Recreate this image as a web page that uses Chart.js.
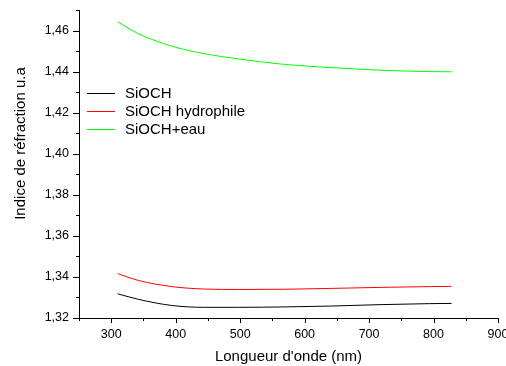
<!DOCTYPE html>
<html>
<head>
<meta charset="utf-8">
<script src="https://cdn.jsdelivr.net/npm/chart.js@4/dist/chart.umd.min.js"></script>
<style>
  html, body { margin: 0; padding: 0; background: #fff; }
  #wrap { position: relative; width: 506px; height: 366px; }
</style>
</head>
<body>
<div id="wrap"><canvas id="c" width="506" height="366"></canvas></div>
<script>
// Wavelengths (nm) at which the refractive index was sampled
const wavelengths = [310, 342, 394, 445, 497, 569, 639, 717, 794, 828];

// Refractive index per film
const siochValues      = [1.3318, 1.3291, 1.3261, 1.3252, 1.3252, 1.3254, 1.3258, 1.3265, 1.3270, 1.3271];
const hydrophileValues = [1.3416, 1.3383, 1.3353, 1.3341, 1.3339, 1.3340, 1.3344, 1.3349, 1.3353, 1.3354];
const eauValues        = [1.4643, 1.4585, 1.4524, 1.4487, 1.4462, 1.4435, 1.4420, 1.4407, 1.4400, 1.4399];

const seriesLabels = ['SiOCH', 'SiOCH hydrophile', 'SiOCH+eau'];
const seriesColors = ['#000000', '#ff0000', '#00ff00'];

const xTitle = "Longueur d'onde (nm)";
const yTitle = 'Indice de réfraction u.a';

const FONT = "'Liberation Sans', Arial, Helvetica, sans-serif";
Chart.defaults.font.family = FONT;
Chart.defaults.color = '#000';

function toPoints(values) {
  return wavelengths.map((w, i) => ({ x: w, y: values[i] }));
}

const datasets = [siochValues, hydrophileValues, eauValues].map((vals, i) => ({
  label: seriesLabels[i],
  data: toPoints(vals),
  borderColor: seriesColors[i],
  backgroundColor: seriesColors[i],
  borderWidth: 1,
  pointRadius: 0,
  cubicInterpolationMode: 'monotone',
  fill: false
}));

// Major/minor tick marks, axis titles and the in-plot legend
const decorations = {
  id: 'decorations',
  afterDraw(chart) {
    const ctx = chart.ctx;
    const xs = chart.scales.x, ys = chart.scales.y;
    const area = chart.chartArea;
    ctx.save();
    ctx.strokeStyle = '#000';
    ctx.lineWidth = 1;
    ctx.beginPath();
    for (let v = 250; v <= 900; v += 50) {
      const px = Math.round(xs.getPixelForValue(v)) + 0.5;
      const len = (v % 100 === 0) ? 5 : 3;
      ctx.moveTo(px, area.bottom);
      ctx.lineTo(px, area.bottom + len);
    }
    for (let k = 132; k <= 147; k++) {
      const py = Math.round(ys.getPixelForValue(k / 100)) + 0.5;
      const len = (k % 2 === 0) ? 6 : 3;
      ctx.moveTo(area.left, py);
      ctx.lineTo(area.left - len, py);
    }
    ctx.stroke();

    // axis titles
    ctx.fillStyle = '#000';
    ctx.font = '15px ' + FONT;
    ctx.textAlign = 'center';
    ctx.textBaseline = 'alphabetic';
    ctx.fillText(xTitle, (area.left + area.right) / 2, 361);
    ctx.save();
    ctx.translate(25, 143.5);
    ctx.rotate(-Math.PI / 2);
    ctx.fillText(yTitle, 0, 0);
    ctx.restore();

    // legend
    ctx.textAlign = 'left';
    chart.data.datasets.forEach((ds, i) => {
      const base = 97.7 + i * 18.3;
      ctx.strokeStyle = ds.borderColor;
      ctx.beginPath();
      ctx.moveTo(87, Math.round(base - 5) + 0.5);
      ctx.lineTo(115, Math.round(base - 5) + 0.5);
      ctx.stroke();
      ctx.fillText(ds.label, 125, base);
    });
    ctx.restore();
  }
};

new Chart(document.getElementById('c'), {
  type: 'line',
  data: { datasets },
  options: {
    responsive: false,
    animation: false,
    devicePixelRatio: 1,
    layout: { padding: { top: 10, right: 8, left: 0, bottom: 0 } },
    plugins: { legend: { display: false }, tooltip: { enabled: false } },
    scales: {
      x: {
        type: 'linear',
        min: 250,
        max: 900,
        grid: { drawOnChartArea: false, drawTicks: false },
        border: { display: true, color: '#000', width: 1 },
        ticks: {
          stepSize: 100,
          includeBounds: false,
          padding: 9,
          font: { size: 12.5 },
          color: '#000',
          maxRotation: 0,
          autoSkip: false
        },
        afterFit(scale) {
          scale.height = 48;
          scale.paddingLeft = 0;
          scale.paddingRight = 0;
        }
      },
      y: {
        type: 'linear',
        min: 1.32,
        max: 1.47,
        grid: { drawOnChartArea: false, drawTicks: false },
        border: { display: true, color: '#000', width: 1 },
        ticks: {
          stepSize: 0.02,
          includeBounds: false,
          padding: 10,
          font: { size: 12.5 },
          color: '#000',
          autoSkip: false,
          callback: (v) => v.toFixed(2).replace('.', ',')
        },
        afterFit(scale) {
          scale.width = 79;
          scale.paddingTop = 0;
          scale.paddingBottom = 0;
        }
      }
    }
  },
  plugins: [decorations]
});
</script>
</body>
</html>
